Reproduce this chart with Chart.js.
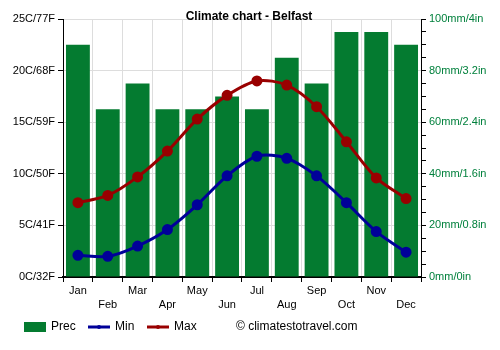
<!DOCTYPE html>
<html><head><meta charset="utf-8">
<script src="https://cdn.jsdelivr.net/npm/chart.js@4/dist/chart.umd.min.js"></script>
<style>html,body{margin:0;padding:0;background:#fff}#wrap{width:500px;height:350px}</style>
</head><body><div id="wrap"><canvas id="c" width="500" height="350"></canvas></div>
<script>
const months = ['Jan','Feb','Mar','Apr','May','Jun','Jul','Aug','Sep','Oct','Nov','Dec'];
const precMm = [90,65,75,65,65,70,65,85,75,95,95,90];
const minC = [2.1,2.0,3.0,4.6,7.0,9.8,11.7,11.5,9.8,7.2,4.4,2.4];
const maxC = [7.2,7.9,9.7,12.2,15.3,17.6,19.0,18.6,16.5,13.1,9.6,7.6];
const tempTicks = [0,5,10,15,20,25];
const precTicks = [0,20,40,60,80,100];
const titleText = 'Climate chart - Belfast';
const credit = '\u00A9 climatestotravel.com';

const GREEN = '#047b30', RED = '#990000', BLUE = '#000099';
const FONT = 'Liberation Sans, Arial, sans-serif';
Chart.defaults.font.family = FONT;
Chart.defaults.font.size = 11;

const overlay = {
  id:'overlay',
  afterDraw(chart){
    const ctx = chart.ctx;
    ctx.save();
    ctx.fillStyle = '#000';
    ctx.font = 'bold 12px ' + FONT;
    ctx.textAlign = 'center'; ctx.textBaseline = 'middle';
    ctx.fillText(titleText, 249, 17);
    // legend
    ctx.font = '12px ' + FONT;
    ctx.textAlign = 'left';
    const y = 327;
    ctx.fillStyle = GREEN; ctx.fillRect(24, 322, 22, 10);
    ctx.fillStyle = '#000'; ctx.fillText('Prec', 51, y);
    const drawLine = (x, col, label) => {
      ctx.strokeStyle = col; ctx.lineWidth = 3;
      ctx.beginPath(); ctx.moveTo(x, y); ctx.lineTo(x+22, y); ctx.stroke();
      ctx.fillStyle = col; ctx.beginPath(); ctx.arc(x+11, y, 2, 0, Math.PI*2); ctx.fill();
      ctx.fillStyle = '#000'; ctx.fillText(label, x+27, y);
    };
    drawLine(88, BLUE, 'Min');
    drawLine(147, RED, 'Max');
    ctx.fillText(credit, 236, y);
    ctx.restore();
  }
};

new Chart(document.getElementById('c'), {
  data: {
    labels: months,
    datasets: [
      {type:'line', label:'Min', data:minC, yAxisID:'yT', borderColor:BLUE, backgroundColor:BLUE, borderWidth:3, pointRadius:4, pointHoverRadius:4, tension:0.3, order:1},
      {type:'line', label:'Max', data:maxC, yAxisID:'yT', borderColor:RED, backgroundColor:RED, borderWidth:3, pointRadius:4, pointHoverRadius:4, tension:0.3, order:0},
      {type:'bar', label:'Prec', data:precMm, yAxisID:'yP', backgroundColor:GREEN, barPercentage:0.8, categoryPercentage:1.0, order:2}
    ]
  },
  options: {
    responsive:false, animation:false,
    layout:{padding:{top:19, bottom:0, left:0, right:0}},
    plugins:{legend:{display:false}, tooltip:{enabled:false}, title:{display:false}},
    scales:{
      x:{
        offset:true,
        grid:{offset:true, color:'#dddddd', tickColor:'#000', tickLength:5, lineWidth:1},
        border:{color:'#000', width:2},
        ticks:{color:'#000', maxRotation:0, autoSkip:false, padding:2, font:{size:11, lineHeight:1.3},
          callback:(v,i)=> i%2===0 ? months[i] : ['', months[i]]},
        afterFit(s){ s.height = 73; }
      },
      yT:{
        position:'left', min:0, max:25,
        afterBuildTicks(s){ s.ticks = tempTicks.map(v=>({value:v})); },
        grid:{color:'#dddddd', tickColor:'#000', tickLength:5},
        border:{color:'#000', width:1},
        ticks:{color:'#000', padding:3, callback:v=> v+'C/'+Math.round(v*9/5+32)+'F'},
        afterFit(s){ s.width = 63; }
      },
      yP:{
        position:'right', min:0, max:100,
        ticks:{stepSize:5, autoSkip:false, color:'#00803c', padding:3,
          callback:v=> (v%20===0) ? (v+'mm/'+(v/25)+'in') : ''},
        grid:{drawOnChartArea:false, tickColor:'#000', tickLength:5},
        border:{color:'#000', width:1},
        afterFit(s){ s.width = 79; }
      }
    }
  },
  plugins:[overlay]
});
</script></body></html>
